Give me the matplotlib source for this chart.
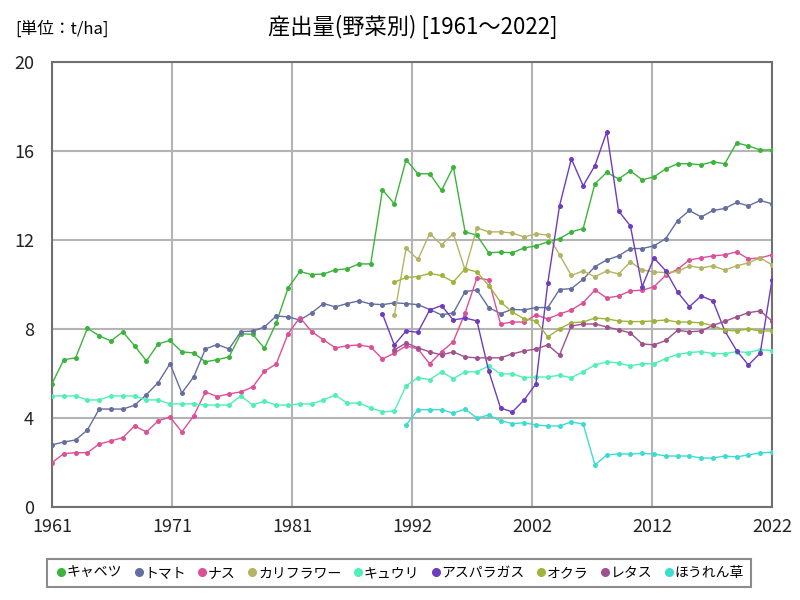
import numpy as np
import matplotlib
matplotlib.use("Agg")
import matplotlib.pyplot as plt
from matplotlib.lines import Line2D
from matplotlib import font_manager

plt.rcParams['font.family'] = ['Noto Sans CJK JP', 'DejaVu Sans']
avail = {f.name for f in font_manager.fontManager.ttflist}
narrow = 'Liberation Sans Narrow' if 'Liberation Sans Narrow' in avail else 'Noto Sans CJK JP'

years = list(range(1961, 2023))

cabbage = [5.54, 6.62, 6.70, 8.03, 7.69, 7.46, 7.87, 7.24, 6.56, 7.33,
           7.48, 6.97, 6.92, 6.52, 6.62, 6.74, 7.78, 7.76, 7.13, 8.27,
           9.84, 10.58, 10.44, 10.47, 10.65, 10.70, 10.92, 10.92, 14.25, 13.62,
           15.60, 14.97, 14.97, 14.22, 15.28, 12.36, 12.21, 11.42, 11.45, 11.42,
           11.64, 11.73, 11.91, 12.06, 12.36, 12.51, 14.52, 15.03, 14.74, 15.10,
           14.70, 14.83, 15.19, 15.42, 15.42, 15.37, 15.51, 15.42, 16.36, 16.22,
           16.04, 16.04]
tomato = [2.79, 2.92, 3.01, 3.46, 4.40, 4.40, 4.40, 4.57, 5.05, 5.59,
          6.44, 5.12, 5.84, 7.10, 7.30, 7.10, 7.88, 7.90, 8.09, 8.58,
          8.54, 8.40, 8.72, 9.14, 8.99, 9.14, 9.26, 9.12, 9.09, 9.17,
          9.14, 9.09, 8.87, 8.63, 8.72, 9.68, 9.75, 8.96, 8.69, 8.88,
          8.85, 8.96, 8.96, 9.77, 9.81, 10.23, 10.80, 11.10, 11.28, 11.61,
          11.61, 11.73, 12.06, 12.87, 13.32, 13.03, 13.32, 13.41, 13.68, 13.53,
          13.77, 13.62]
eggplant = [1.99, 2.40, 2.44, 2.44, 2.83, 2.97, 3.12, 3.64, 3.37, 3.87,
            4.04, 3.37, 4.09, 5.17, 4.96, 5.08, 5.17, 5.39, 6.10, 6.43,
            7.78, 8.51, 7.88, 7.51, 7.15, 7.24, 7.28, 7.19, 6.65, 6.91,
            7.24, 7.10, 6.43, 6.97, 7.43, 8.72, 10.29, 10.20, 8.22, 8.31,
            8.31, 8.63, 8.45, 8.67, 8.85, 9.18, 9.75, 9.39, 9.48, 9.71,
            9.74, 9.89, 10.41, 10.68, 11.10, 11.19, 11.28, 11.33, 11.46, 11.15,
            11.19, 11.33]
cucumber = [4.99, 4.99, 4.99, 4.81, 4.81, 4.99, 4.99, 4.99, 4.81, 4.81,
            4.63, 4.63, 4.63, 4.58, 4.58, 4.58, 4.99, 4.58, 4.76, 4.58,
            4.58, 4.63, 4.63, 4.81, 5.03, 4.67, 4.67, 4.45, 4.27, 4.31,
            5.44, 5.81, 5.72, 6.07, 5.77, 6.07, 6.07, 6.34, 5.98, 5.98,
            5.81, 5.84, 5.84, 5.92, 5.81, 6.08, 6.38, 6.52, 6.47, 6.34,
            6.44, 6.43, 6.67, 6.85, 6.94, 6.98, 6.89, 6.89, 6.98, 6.94,
            7.07, 7.03]
asparagus_start = 1989
asparagus = [8.67, 7.28,
             7.91, 7.85, 8.85, 9.05, 8.40, 8.49, 8.36, 6.11, 4.45, 4.27,
             4.81, 5.53, 10.05, 13.53, 15.64, 14.43, 15.34, 16.85, 13.30, 12.63,
             9.90, 11.19, 10.61, 9.66, 9.00, 9.48, 9.26, 7.91, 7.03, 6.38,
             6.91, 10.20]
cauliflower_start = 1990
cauliflower = [8.61,
               11.62, 11.12, 12.28, 11.78, 12.28, 10.65, 12.54, 12.36, 12.36, 12.31,
               12.13, 12.27, 12.22, 11.33, 10.40, 10.61, 10.34, 10.61, 10.47, 11.01,
               10.65, 10.56, 10.53, 10.58, 10.83, 10.74, 10.83, 10.65, 10.83, 10.97,
               11.19, 10.88]
okra_start = 1990
okra = [10.10,
        10.31, 10.35, 10.49, 10.40, 10.11, 10.70, 10.56, 9.95, 9.21, 8.76,
        8.45, 8.36, 7.64, 8.00, 8.28, 8.31, 8.49, 8.45, 8.36, 8.33,
        8.33, 8.36, 8.40, 8.31, 8.31, 8.27, 8.15, 7.94, 7.91, 8.00,
        7.91, 7.91]
lettuce_start = 1990
lettuce = [7.05,
           7.37, 7.15, 6.97, 6.83, 6.97, 6.74, 6.70, 6.70, 6.70, 6.88,
           7.01, 7.10, 7.28, 6.83, 8.13, 8.22, 8.22, 8.09, 7.96, 7.82,
           7.33, 7.28, 7.48, 7.94, 7.87, 7.91, 8.16, 8.34, 8.54, 8.73,
           8.81, 8.36]
spinach_start = 1991
spinach = [3.69, 4.37, 4.37, 4.37, 4.22, 4.40, 4.00, 4.13, 3.87, 3.75,
           3.78, 3.69, 3.64, 3.64, 3.82, 3.73, 1.89, 2.34, 2.38, 2.38,
           2.41, 2.38, 2.29, 2.29, 2.29, 2.20, 2.20, 2.29, 2.25, 2.34,
           2.43, 2.46]

names = ['キャベツ', 'トマト', 'ナス', 'カリフラワー', 'キュウリ',
         'アスパラガス', 'オクラ', 'レタス', 'ほうれん草']
colors = ['#3cb43c', '#646ea0', '#dc5096', '#b4b464', '#50f0b4',
          '#6e3cbe', '#a0b43c', '#a0508c', '#3cdcd2']

series = [
    (1961, cabbage), (1961, tomato), (1961, eggplant),
    (cauliflower_start, cauliflower), (1961, cucumber),
    (asparagus_start, asparagus), (okra_start, okra),
    (lettuce_start, lettuce), (spinach_start, spinach),
]

fig = plt.figure(figsize=(8, 6), dpi=100)
ax = fig.add_axes([0.065, 0.155, 0.9, 0.742])

for (start, vals), c in zip(series, colors):
    xs = np.arange(start, start + len(vals))
    ax.plot(xs, vals, color=c, lw=1.0, marker='o', markersize=3.6,
            markeredgewidth=0, zorder=3)

ax.set_xlim(1961, 2022)
ax.set_ylim(0, 20)
xt = np.linspace(1961, 2022, 7)
ax.set_xticks(xt)
ax.set_xticklabels([str(int(round(v))) for v in xt])
ax.set_yticks([0, 4, 8, 12, 16, 20])
ax.grid(True, color='#b4b4b4', lw=1.5, zorder=0)
for s in ax.spines.values():
    s.set_color('#707070')
    s.set_linewidth(1.5)
ax.tick_params(axis='x', length=0, labelsize=13, pad=8, colors='#222222')
ax.tick_params(axis='y', length=0, labelsize=13, pad=13, colors='#222222')
for lab in ax.get_xticklabels() + ax.get_yticklabels():
    lab.set_family([narrow, 'Noto Sans CJK JP'])

fig.text(0.019, 0.952, '[単位：t/ha]', fontsize=12, ha='left', va='center',
         family=['Noto Sans CJK JP', 'DejaVu Sans'])
fig.text(0.516, 0.955, '産出量(野菜別) [1961～2022]', fontsize=16, ha='center',
         va='center', family=['Noto Sans CJK JP', 'DejaVu Sans'])

handles = [Line2D([], [], color=c, marker='o', linestyle='none', markersize=5.5)
           for c in colors]
leg = fig.legend(handles, names, loc='center', bbox_to_anchor=(0.4985, 0.045),
                 ncol=9, frameon=True, fontsize=10, handletextpad=-0.1,
                 columnspacing=0.7, borderpad=0.5, fancybox=False,
                 handlelength=1.0, borderaxespad=0)
leg.get_frame().set_edgecolor('#707070')
leg.get_frame().set_linewidth(1.5)

fig.savefig('out.png', dpi=100)
